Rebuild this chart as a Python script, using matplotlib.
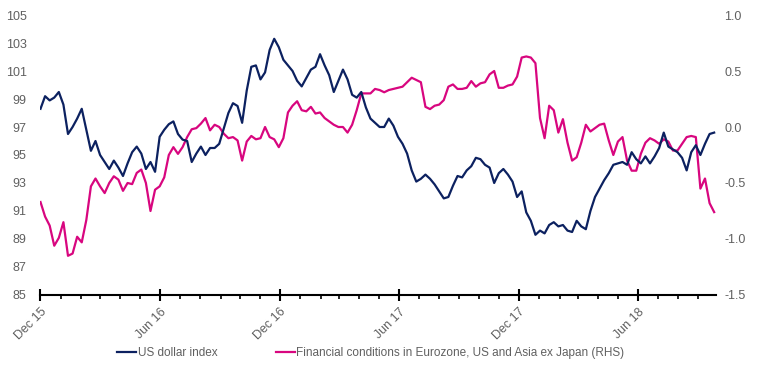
import matplotlib
matplotlib.use("Agg")
import matplotlib.pyplot as plt
import matplotlib.dates as mdates
import pandas as pd

plt.rcParams["font.family"] = ["Liberation Sans", "DejaVu Sans"]
plt.rcParams["axes.unicode_minus"] = False

NAVY = "#0c2160"
MAGENTA = "#d8067f"
GREY = "#606060"

# weekly observations, starting 1 Dec 2015
START = "2015-12-01"

# US dollar index (LHS)
dxy = [
    98.3, 99.2, 98.9, 99.1, 99.5, 98.6, 96.5, 97.0, 97.6, 98.3,
    96.8, 95.3, 96.0, 95.0, 94.5, 94.0, 94.6, 94.1, 93.5, 94.4,
    95.2, 95.6, 95.1, 94.0, 94.5, 93.8, 96.3, 96.8, 97.2, 97.4,
    96.5, 96.1, 96.0, 94.5, 95.1, 95.6, 95.0, 95.5, 95.5, 95.8,
    96.9, 98.0, 98.7, 98.5, 97.3, 99.6, 101.3, 101.4, 100.4, 100.9,
    102.5, 103.3, 102.7, 101.8, 101.4, 101.0, 100.3, 99.9, 100.5, 101.1,
    101.3, 102.2, 101.4, 100.7, 99.5, 100.3, 101.1, 100.4, 99.3, 99.1,
    99.5, 98.4, 97.6, 97.3, 97.0, 97.0, 97.6, 97.1, 96.3, 95.8,
    95.1, 93.9, 93.1, 93.3, 93.6, 93.3, 92.9, 92.4, 91.9, 92.0,
    92.8, 93.5, 93.4, 93.9, 94.2, 94.8, 94.7, 94.3, 94.1, 93.0,
    93.7, 94.0, 93.6, 93.1, 92.0, 92.4, 90.9, 90.3, 89.3, 89.6,
    89.4, 90.0, 90.2, 89.9, 90.0, 89.6, 89.5, 90.3, 89.9, 89.7,
    91.0, 92.0, 92.6, 93.2, 93.7, 94.3, 94.4, 94.5, 94.3, 95.2,
    94.7, 94.4, 94.9, 94.4, 94.9, 95.5, 96.6, 95.6, 95.4, 95.2,
    94.8, 93.9, 95.2, 95.7, 95.0, 95.8, 96.5, 96.6,
]

# Financial conditions in Eurozone, US and Asia ex Japan (RHS)
fci = [
    -0.67, -0.80, -0.88, -1.06, -0.99, -0.85, -1.15, -1.13, -0.98, -1.03,
    -0.83, -0.53, -0.46, -0.53, -0.59, -0.50, -0.44, -0.47, -0.57, -0.50,
    -0.51, -0.41, -0.38, -0.50, -0.75, -0.56, -0.53, -0.45, -0.25, -0.18,
    -0.24, -0.18, -0.09, -0.02, -0.01, 0.03, 0.08, -0.03, 0.02, 0.00,
    -0.06, -0.10, -0.09, -0.12, -0.30, -0.13, -0.08, -0.11, -0.10, 0.00,
    -0.09, -0.11, -0.18, -0.10, 0.13, 0.19, 0.23, 0.15, 0.14, 0.18,
    0.12, 0.13, 0.08, 0.05, 0.02, 0.00, 0.00, -0.05, 0.02, 0.15,
    0.30, 0.30, 0.30, 0.34, 0.33, 0.31, 0.33, 0.34, 0.35, 0.36,
    0.40, 0.44, 0.42, 0.40, 0.18, 0.16, 0.19, 0.20, 0.24, 0.36,
    0.38, 0.34, 0.34, 0.35, 0.41, 0.36, 0.39, 0.40, 0.47, 0.50,
    0.35, 0.35, 0.37, 0.38, 0.45, 0.62, 0.63, 0.62, 0.57, 0.08,
    -0.10, 0.19, 0.15, -0.05, 0.07, -0.14, -0.30, -0.27, -0.14, 0.02,
    -0.04, -0.01, 0.02, 0.03, -0.12, -0.25, -0.13, -0.09, -0.30, -0.39,
    -0.39, -0.24, -0.14, -0.10, -0.12, -0.15, -0.11, -0.13, -0.21, -0.21,
    -0.15, -0.09, -0.08, -0.09, -0.55, -0.46, -0.68, -0.76,
]

dates = pd.date_range(START, periods=len(dxy), freq="7D")

fig = plt.figure(figsize=(7.57, 3.78), dpi=100)
ax = fig.add_axes([0.0535, 0.2196, 0.8925, 0.7407])
ax2 = ax.twinx()

l1, = ax.plot(dates, dxy, color=NAVY, lw=1.6, solid_joinstyle="round",
              label="US dollar index")
l2, = ax2.plot(dates, fci, color=MAGENTA, lw=1.6, solid_joinstyle="round",
               label="Financial conditions in Eurozone, US and Asia ex Japan (RHS)")
ax.set_zorder(ax2.get_zorder() + 1)
ax.patch.set_visible(False)

ax.set_ylim(85, 105)
ax.set_yticks(range(85, 106, 2))
ax2.set_ylim(-1.5, 1.0)
rhs_ticks = [-1.5, -1.0, -0.5, 0.0, 0.5, 1.0]
ax2.set_yticks(rhs_ticks)
ax2.set_yticklabels([f"{v:.1f}" for v in rhs_ticks])

ax.set_xlim(pd.Timestamp("2015-12-01"), dates[-1] + pd.Timedelta(days=3))
ax.xaxis.set_major_locator(mdates.MonthLocator(bymonth=[6, 12]))
ax.xaxis.set_major_formatter(mdates.DateFormatter("%b %y"))
ax.xaxis.set_minor_locator(mdates.MonthLocator())

for a in (ax, ax2):
    for s in a.spines.values():
        s.set_visible(False)
ax.spines["bottom"].set_visible(True)
ax.spines["bottom"].set_linewidth(1.5)
ax.spines["bottom"].set_color("black")

ax.tick_params(axis="y", length=0, pad=10, labelsize=9, labelcolor=GREY)
ax2.tick_params(axis="y", length=0, pad=6, labelsize=9, labelcolor=GREY)
ax.tick_params(axis="x", which="major", direction="inout", length=8, width=1.5,
               labelsize=9, labelcolor=GREY, pad=4)
ax.tick_params(axis="x", which="minor", direction="out", length=3, width=1.2)
for lab in ax.get_xticklabels():
    lab.set_rotation(45)
    lab.set_ha("right")
    lab.set_rotation_mode("anchor")

fig.legend(handles=[l1, l2], loc="center", bbox_to_anchor=(0.49, 1 - 353 / 378),
           ncol=2, frameon=False, fontsize=8.5, handlelength=1.6, handletextpad=0.1,
           columnspacing=5.0, labelcolor=GREY)

fig.savefig("out.png", dpi=100)
